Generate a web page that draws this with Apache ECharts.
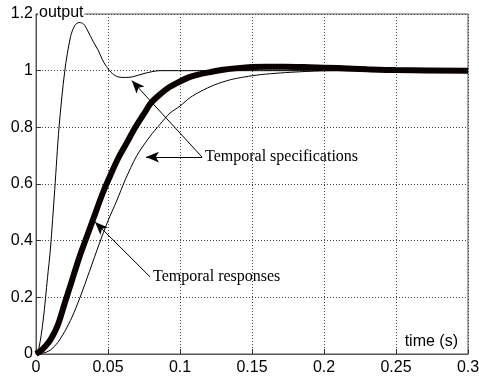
<!DOCTYPE html>
<html>
<head>
<meta charset="utf-8">
<script src="https://cdn.jsdelivr.net/npm/echarts@6/dist/echarts.min.js"></script>
<style>
  html, body { margin: 0; padding: 0; background: #fff; }
  #chart { width: 479px; height: 380px; }
</style>
</head>
<body>
<div id="chart"></div>
<script>
// time (s) / output samples
const fastT = [0, 0.002, 0.005, 0.008, 0.01, 0.013, 0.016, 0.02, 0.024, 0.027, 0.03, 0.033, 0.036, 0.04, 0.043, 0.046, 0.049, 0.053, 0.057, 0.062, 0.067, 0.075, 0.086, 0.3];
const fastV = [0, 0.02, 0.12, 0.27, 0.37, 0.58, 0.8, 1.0, 1.12, 1.16, 1.17, 1.165, 1.14, 1.1, 1.074, 1.04, 1.014, 0.99, 0.978, 0.976, 0.978, 0.99, 1.0, 1.0];

const midT = [0, 0.003, 0.006, 0.01, 0.015, 0.02, 0.025, 0.03, 0.035, 0.04, 0.0465, 0.052, 0.057, 0.063, 0.069, 0.075, 0.08, 0.087, 0.093, 0.1, 0.107, 0.114, 0.121, 0.13, 0.14, 0.15, 0.16, 0.172, 0.19, 0.21, 0.23, 0.25, 0.3];
const midV = [0, 0.01, 0.025, 0.05, 0.1, 0.18, 0.26, 0.34, 0.41, 0.48, 0.57, 0.635, 0.69, 0.745, 0.8, 0.848, 0.887, 0.92, 0.943, 0.962, 0.978, 0.988, 0.995, 1.003, 1.009, 1.013, 1.014, 1.014, 1.012, 1.009, 1.005, 1.002, 1.0];

const slowT = [0, 0.005, 0.01, 0.015, 0.02, 0.025, 0.0306, 0.037, 0.044, 0.05, 0.056, 0.062, 0.07, 0.079, 0.086, 0.093, 0.1, 0.107, 0.114, 0.124, 0.135, 0.145, 0.156, 0.17, 0.183, 0.204, 0.23, 0.3];
const slowV = [0, 0.003, 0.014, 0.04, 0.08, 0.13, 0.2, 0.29, 0.39, 0.47, 0.54, 0.615, 0.7, 0.767, 0.81, 0.85, 0.875, 0.905, 0.926, 0.95, 0.968, 0.978, 0.986, 0.992, 0.996, 1.0, 1.0, 1.0];

const xTicks = [0, 0.05, 0.1, 0.15, 0.2, 0.25, 0.3];
const yTicks = [0, 0.2, 0.4, 0.6, 0.8, 1, 1.2];

// annotations, in data units
const specText = "Temporal specifications";
const specFrom = [0.1153, 0.695];
const specTips = [[0.0764, 0.695], [0.0665, 0.965]];
const respText = "Temporal responses";
const respFrom = [0.0792, 0.272];
const respTip = [0.041, 0.466];

const zip = (t, v) => t.map((x, i) => [x, v[i]]);

const arrow = (from, to) => [
  { coord: from, symbol: "none" },
  { coord: to, symbol: "arrow", symbolSize: [8, 13] },
];

const chart = echarts.init(document.getElementById("chart"));

const gridLine = { show: true, lineStyle: { color: "#444", type: [1, 2], width: 1 } };
const labelFont = { fontFamily: "Liberation Sans, Arial, sans-serif", fontSize: 16, color: "#000" };

chart.setOption({
  animation: false,
  grid: {
    left: 36, right: 11, top: 14, bottom: 26,
    outerBoundsMode: "none", containLabel: false,
    show: true, borderColor: "#555", borderWidth: 1,
  },
  xAxis: {
    type: "value", min: 0, max: 0.3, interval: 0.05,
    axisLine: { lineStyle: { color: "#555" } },
    axisTick: { inside: true, length: 5, lineStyle: { color: "#333" } },
    axisLabel: Object.assign({ margin: 6, formatter: (v) => String(+v.toFixed(2)) }, labelFont),
    splitLine: gridLine,
  },
  yAxis: {
    type: "value", min: 0, max: 1.2, interval: 0.2,
    axisLine: { show: true, lineStyle: { color: "#555" } },
    axisTick: { show: true, inside: true, length: 5, lineStyle: { color: "#333" } },
    axisLabel: Object.assign({ margin: 3, formatter: (v) => String(+v.toFixed(1)) }, labelFont),
    splitLine: gridLine,
  },
  graphic: [
    {
      type: "text", left: 38, top: 5, z: 100,
      style: { text: "output", backgroundColor: "#fff", padding: [0, 1], font: "16px 'Liberation Sans', Arial, sans-serif", fill: "#000" },
    },
    {
      type: "text", right: 21, top: 334, z: 100,
      style: { text: "time (s)", font: "16px 'Liberation Sans', Arial, sans-serif", fill: "#000" },
    },
  ],
  series: [
    {
      type: "line", data: zip(fastT, fastV), showSymbol: false, smooth: 0.3,
      lineStyle: { color: "#000", width: 1 },
    },
    {
      type: "line", data: zip(slowT, slowV), showSymbol: false, smooth: 0.3,
      lineStyle: { color: "#000", width: 1 },
    },
    {
      type: "line", data: zip(midT, midV), showSymbol: false, smooth: 0.3,
      lineStyle: { color: "#0a0000", width: 6 },
      markLine: {
        silent: true, animation: false,
        lineStyle: { color: "#000", width: 1, type: "solid" },
        label: { show: false },
        data: [arrow(specFrom, specTips[0]), arrow(specFrom, specTips[1]), arrow(respFrom, respTip)],
      },
      markPoint: {
        silent: true, symbol: "circle", symbolSize: 0,
        label: {
          show: true, position: "right", distance: 3, color: "#000",
          fontFamily: "Liberation Serif, Times New Roman, serif", fontSize: 16,
          formatter: (p) => p.name,
        },
        data: [
          { name: specText, coord: specFrom },
          { name: respText, coord: respFrom },
        ],
      },
    },
  ],
});
</script>
</body>
</html>
